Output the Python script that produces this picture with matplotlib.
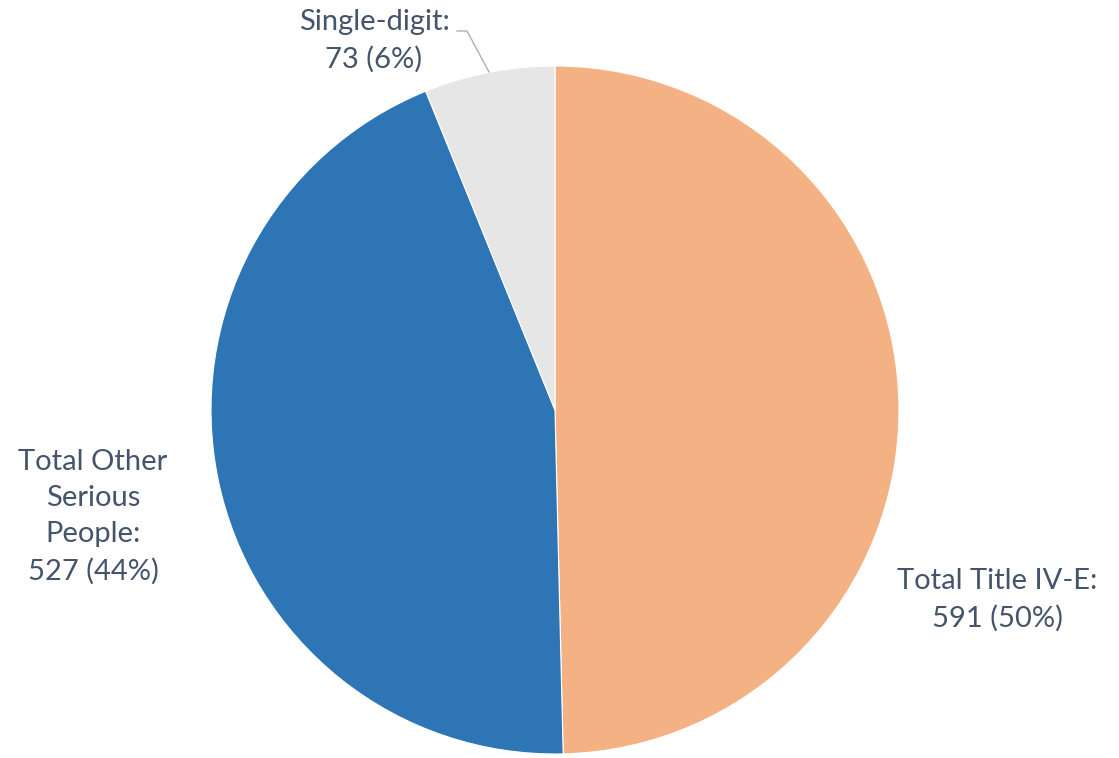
import matplotlib.pyplot as plt

labels = ['Total Title IV-E', 'Total Other\nSerious\nPeople', 'Single-digit']
values = [591, 527, 73]
colors = ['#F4B183', '#2E75B6', '#E7E6E6']
text_color = '#44546A'

W, H = 1119, 758
fig = plt.figure(figsize=(W / 100, H / 100), dpi=100)
ax = fig.add_axes([0, 0, 1, 1])

ax.pie(values, colors=colors, startangle=90, counterclock=False,
       center=(555, H - 410), radius=344,
       wedgeprops=dict(edgecolor='white', linewidth=0.8))

# pie() resets the limits, so set them afterwards
ax.set_xlim(0, W)
ax.set_ylim(0, H)
ax.set_aspect('equal')
ax.axis('off')

total = sum(values)
pct = [round(v / total * 100) for v in values]
label_pos = [(997, H - 600), (93, H - 517), (374, H - 41)]
font = dict(color=text_color, fontsize=21, family=['Lato', 'DejaVu Sans'],
            ha='center', va='center', linespacing=1.48)
for lab, v, p, (x, y) in zip(labels, values, pct, label_pos):
    ax.text(x, y, f'{lab}:\n{v} ({p}%)', **font)

# leader line for the small slice
ax.plot([457, 467, 489], [H - 31, H - 31, H - 72], color='#A6B0BF', lw=1)

fig.savefig('out.png', dpi=100)
